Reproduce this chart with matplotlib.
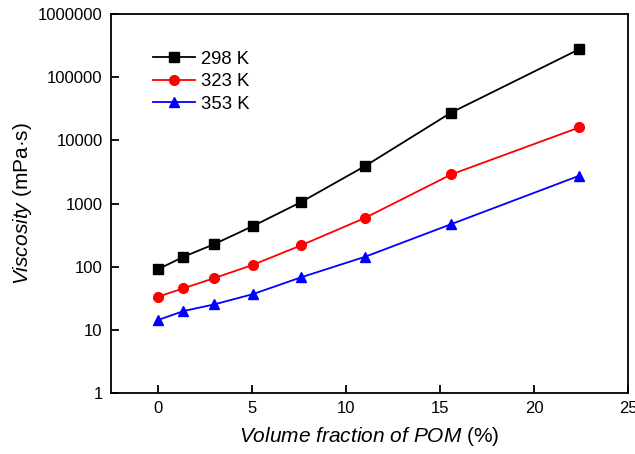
import matplotlib
matplotlib.use("Agg")
import matplotlib.pyplot as plt
import matplotlib.ticker as ticker

plt.rcParams['font.family'] = ['Liberation Sans', 'DejaVu Sans']
plt.rcParams['mathtext.fontset'] = 'custom'
plt.rcParams['mathtext.rm'] = 'Liberation Sans'
plt.rcParams['mathtext.it'] = 'Liberation Sans:italic'

# volume fraction of POM, %
pom = [0, 1.35, 3.0, 5.05, 7.6, 11.0, 15.6, 22.4]

# viscosity, mPa·s
visc_298 = [91, 143, 228, 440, 1050, 3900, 27600, 277000]
visc_323 = [33.4, 45.4, 66, 107, 217, 590, 2890, 16000]
visc_353 = [14.3, 19.8, 25.3, 36.8, 67.7, 143, 472, 2750]

labels = ['298 K', '323 K', '353 K']

fig = plt.figure(figsize=(6.35, 4.54), dpi=100)
ax = fig.add_axes([0.1748, 0.1344, 0.8142, 0.8346])

ax.plot(pom, visc_298, '-s', color='black', lw=1.3, ms=6.5, label=labels[0])
ax.plot(pom, visc_323, '-o', color='red', lw=1.3, ms=7, label=labels[1])
ax.plot(pom, visc_353, '-^', color='blue', lw=1.3, ms=7, label=labels[2])

ax.set_yscale('log')
ax.set_ylim(1, 1e6)
ax.set_xlim(-2.5, 25)
ax.set_xticks([0, 5, 10, 15, 20, 25])
ax.yaxis.set_major_locator(ticker.FixedLocator([1, 10, 100, 1000, 1e4, 1e5, 1e6]))
ax.yaxis.set_major_formatter(ticker.FuncFormatter(lambda v, p: '%d' % round(v)))
ax.yaxis.set_minor_locator(ticker.NullLocator())

for s in ax.spines.values():
    s.set_linewidth(1.3)
ax.tick_params(direction='in', length=6, width=1.3, labelsize=12, pad=6,
               top=False, right=False)

ax.set_xlabel(r'$\mathit{Volume\ fraction\ of\ POM}$ (%)', fontsize=15, labelpad=6)
ax.set_ylabel(r'$\mathit{Viscosity}$ (mPa·s)', fontsize=15, labelpad=3)

ax.legend(loc='upper left', bbox_to_anchor=(0.066, 0.923), frameon=False,
          fontsize=13.3, handlelength=2.3, handletextpad=0.35,
          labelspacing=0.3, borderaxespad=0)

fig.savefig('out.png', dpi=100)
